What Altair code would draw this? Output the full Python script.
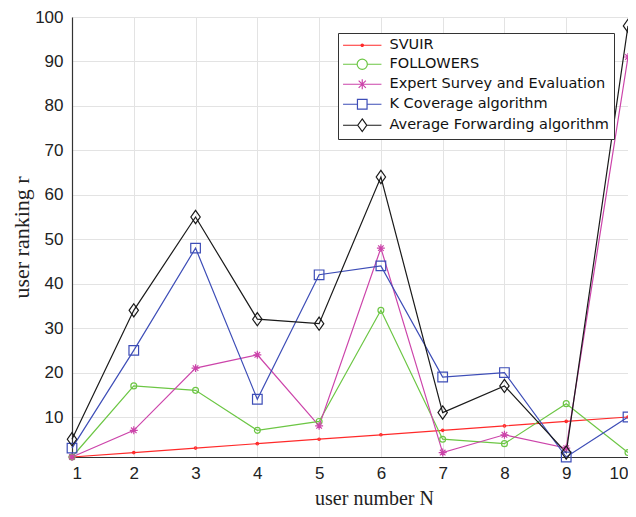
import altair as alt
import pandas as pd

N = [1, 2, 3, 4, 5, 6, 7, 8, 9, 10]
series_names = ["SVUIR", "FOLLOWERS", "Expert Survey and Evaluation",
                "K Coverage algorithm", "Average Forwarding algorithm"]
svuir = [1, 2, 3, 4, 5, 6, 7, 8, 9, 10]
followers = [1, 17, 16, 7, 9, 34, 5, 4, 13, 2]
expert = [1, 7, 21, 24, 8, 48, 2, 6, 3, 91]
kcov = [3, 25, 48, 14, 42, 44, 19, 20, 1, 10]
avgfwd = [5, 34, 55, 32, 31, 64, 11, 17, 2, 98]
x_ticks = [1, 2, 3, 4, 5, 6, 7, 8, 9, 10]
y_ticks = [10, 20, 30, 40, 50, 60, 70, 80, 90, 100]

colors = ["#ff2a2a", "#6cc644", "#cc44aa", "#3d4db7", "#1a1a1a"]
plot_shapes = [
    "circle",
    "circle",
    "M-1,0H1M0,-1V1M-0.7,-0.7L0.7,0.7M-0.7,0.7L0.7,-0.7",
    "square",
    "M0,-1.2L0.85,0L0,1.2L-0.85,0Z",
]
plot_sizes = [6, 121, 121, 100, 110]
legend_shapes = [
    "M-3.2,0H3.2M-0.2,0A0.2,0.2 0 1,0 0.2,0A0.2,0.2 0 1,0 -0.2,0",
    "M-3.2,0H-0.85M0.85,0H3.2M0.85,0A0.85,0.85 0 1,0 -0.85,0A0.85,0.85 0 1,0 0.85,0",
    "M-3.2,0H3.2M0,-0.85V0.85M-0.6,-0.6L0.6,0.6M-0.6,0.6L0.6,-0.6",
    "M-3.2,0H-0.8M0.8,0H3.2M-0.8,-0.8H0.8V0.8H-0.8Z",
    "M-3.2,0H-0.75M0.75,0H3.2M0,-1.05L0.75,0L0,1.05L-0.75,0Z",
]

rows = []
for name, vals in zip(series_names, [svuir, followers, expert, kcov, avgfwd]):
    for n, v in zip(N, vals):
        rows.append({"N": n, "r": v, "series": name})
df = pd.DataFrame(rows)

x_enc = alt.X("N:Q", scale=alt.Scale(domain=[1, 10], nice=False),
              axis=alt.Axis(values=x_ticks, title="user number N", format="d",
                            titleX=302, titleY=47, titleBaseline="alphabetic",
                            titleFontSize=20))
y_enc = alt.Y("r:Q", scale=alt.Scale(domain=[1, 100], nice=False),
              axis=alt.Axis(values=y_ticks, title="user ranking r"))

color_scale = alt.Scale(domain=series_names, range=colors)

lines = alt.Chart(df).mark_line(strokeWidth=1.2).encode(
    x=x_enc, y=y_enc,
    color=alt.Color("series:N", scale=color_scale, legend=None),
)
points = alt.Chart(df).mark_point(filled=False, strokeWidth=1.2, opacity=1).encode(
    x=x_enc, y=y_enc,
    color=alt.Color("series:N", scale=color_scale, legend=None),
    shape=alt.Shape("series:N", scale=alt.Scale(domain=series_names, range=plot_shapes), legend=None),
    size=alt.Size("series:N", scale=alt.Scale(domain=series_names, range=plot_sizes), legend=None),
)
main = alt.layer(lines, points)

leg = alt.Legend(
    title=None, orient="none", legendX=266, legendY=16,
    strokeColor="#333333", fillColor="white", padding=5, cornerRadius=0,
    symbolSize=144, symbolStrokeWidth=1.2, symbolOpacity=1,
    symbolOffset=12, labelOffset=20, rowPadding=4,
    labelFont="DejaVu Sans", labelFontSize=14.5, labelColor="#111111",
    labelLimit=400,
)
legend_layer = alt.Chart(df).mark_point(filled=False, opacity=0, strokeWidth=1.2).encode(
    x=x_enc, y=y_enc,
    color=alt.Color("series:N", scale=alt.Scale(domain=series_names, range=colors), legend=leg),
    shape=alt.Shape("series:N", scale=alt.Scale(domain=series_names, range=legend_shapes), legend=leg),
)

chart = alt.layer(main, legend_layer).resolve_scale(
    color="independent", shape="independent"
).properties(
    width=556, height=440,
    autosize=alt.AutoSizeParams(type="none"),
    padding={"left": 64, "top": 9, "right": 0, "bottom": 52},
).configure_view(stroke=None).configure_axis(
    domainColor="#333333", domainWidth=1.2,
    gridColor="#e3e3e3", gridWidth=1,
    ticks=False,
    labelFont="Liberation Sans", labelFontSize=17, labelColor="#222222",
    titleFont="Liberation Serif", titleFontSize=22, titleFontWeight="normal", titleColor="#222222",
).configure_axisX(labelPadding=8).configure_axisY(labelPadding=9, titlePadding=1)

chart.save("out.html", embed_options={"renderer": "svg", "actions": False})
